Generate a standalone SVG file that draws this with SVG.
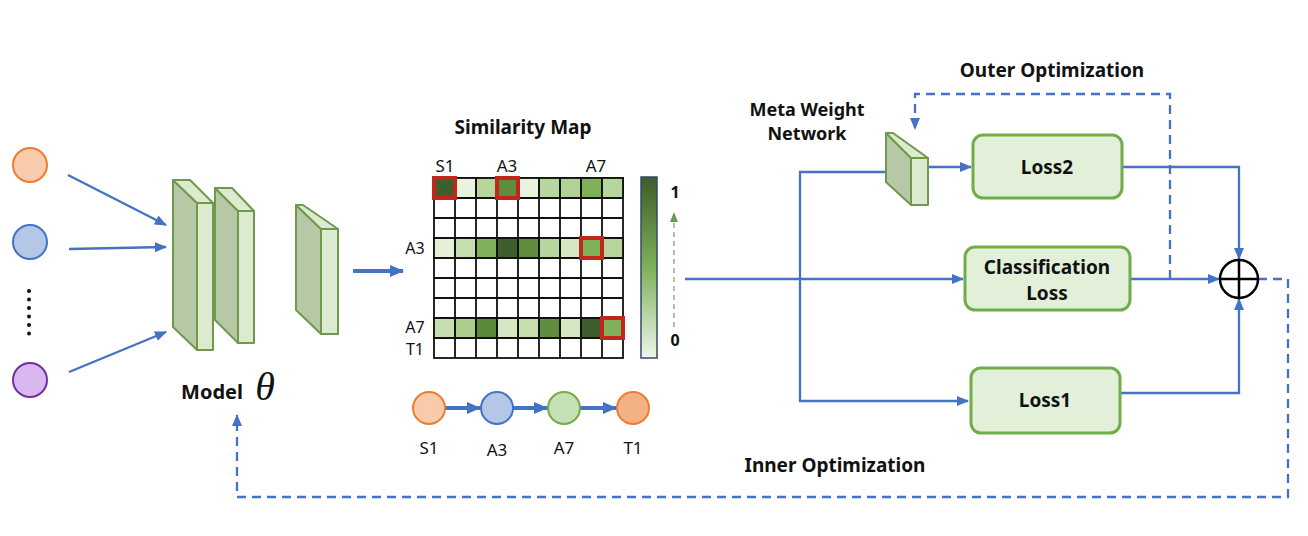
<svg xmlns="http://www.w3.org/2000/svg" width="1308" height="536" viewBox="0 0 1308 536">
<defs>
<style>
.t{font-family:"Noto Sans","Open Sans","Liberation Sans",sans-serif;fill:#111;text-anchor:middle}
.b{font-weight:700}
.box{fill:#e2efd9;stroke:#70ad47;stroke-width:3}
.ln{fill:none;stroke:#4472c4;stroke-width:2.3}
.dash{fill:none;stroke:#4472c4;stroke-width:2.3;stroke-dasharray:9 6}
.thick{fill:none;stroke:#4472c4;stroke-width:4}
.dk{fill:#b6c8a6;stroke:#6f9a4e;stroke-width:2;stroke-linejoin:round}
.lt{fill:#dcebd0;stroke:#6f9a4e;stroke-width:2;stroke-linejoin:round}
.cell{stroke:#111;stroke-width:1.8}
.red{fill:none;stroke:#c0261c;stroke-width:4}
</style>
<marker id="ah" markerUnits="userSpaceOnUse" markerWidth="12" markerHeight="10" refX="11" refY="5" orient="auto"><path d="M0,0 L12,5 L0,10 Z" fill="#4472c4"/></marker>
<marker id="ahT" markerUnits="userSpaceOnUse" markerWidth="14" markerHeight="12" refX="13" refY="6" orient="auto"><path d="M0,0 L14,6 L0,12 Z" fill="#4472c4"/></marker>
<marker id="ahG" markerUnits="userSpaceOnUse" markerWidth="10" markerHeight="10" refX="9" refY="5" orient="auto"><path d="M0,1 L10,5 L0,9 Z" fill="#6a9a50"/></marker>
<linearGradient id="cb" x1="0" y1="0" x2="0" y2="1">
<stop offset="0" stop-color="#3e5c2a"/>
<stop offset="0.5" stop-color="#7fb05a"/>
<stop offset="1" stop-color="#eef6e8"/>
</linearGradient>
</defs>
<rect width="1308" height="536" fill="#fff"/>

<g id="connectors">
<line class="ln" x1="68" y1="175" x2="166" y2="225" marker-end="url(#ah)"/>
<line class="ln" x1="69" y1="249" x2="166" y2="247" marker-end="url(#ah)"/>
<line class="ln" x1="69" y1="372" x2="166" y2="332" marker-end="url(#ah)"/>
<line class="thick" x1="353" y1="271" x2="403" y2="271" marker-end="url(#ahT)"/>
<line class="ln" x1="685" y1="279" x2="963" y2="279" marker-end="url(#ah)"/>
<polyline class="ln" points="885,172 800,172 800,401 968,401" marker-end="url(#ah)"/>
<line class="ln" x1="928" y1="167" x2="971" y2="167" marker-end="url(#ah)"/>
<polyline class="ln" points="1122,167 1239,167 1239,259" marker-end="url(#ah)"/>
<line class="ln" x1="1130" y1="279" x2="1219" y2="279" marker-end="url(#ah)"/>
<polyline class="ln" points="1120,393 1239,393 1239,299" marker-end="url(#ah)"/>
<polyline class="dash" points="1170,279 1170,94 915,94 915,129" marker-end="url(#ah)"/>
<polyline class="dash" points="1258,279 1288,279 1288,497 237,497 237,415" marker-end="url(#ah)"/>
<line class="thick" x1="445" y1="408" x2="480" y2="408" marker-end="url(#ahT)"/>
<line class="thick" x1="513" y1="408" x2="547" y2="408" marker-end="url(#ahT)"/>
<line class="thick" x1="580" y1="408" x2="616" y2="408" marker-end="url(#ahT)"/>
</g>

<g id="inputs">
<circle cx="30" cy="165" r="17" fill="#f8cbad" stroke="#ed7d31" stroke-width="2"/>
<circle cx="30" cy="242" r="17" fill="#b4c7e7" stroke="#4472c4" stroke-width="2"/>
<g fill="#111">
<circle cx="29" cy="291" r="2"/><circle cx="29" cy="299.5" r="2"/><circle cx="29" cy="308" r="2"/><circle cx="29" cy="316.5" r="2"/><circle cx="29" cy="325" r="2"/><circle cx="29" cy="333.5" r="2"/>
</g>
<circle cx="30" cy="380" r="17" fill="#d9b8f0" stroke="#7030a0" stroke-width="2"/>
</g>

<g id="model">
<polygon class="dk" points="173,180 197,203 197,350 173,327"/>
<polygon class="lt" points="173,180 190,180 213,203 197,203"/>
<rect class="lt" x="197" y="203" width="16" height="147"/>
<polygon class="dk" points="215,188 238,211 238,343 215,320"/>
<polygon class="lt" points="215,188 232,188 254,211 238,211"/>
<rect class="lt" x="238" y="211" width="16" height="132"/>
<polygon class="dk" points="296,205 321,229 321,334 296,310"/>
<polygon class="lt" points="296,205 303,205 338,229 321,229"/>
<rect class="lt" x="321" y="229" width="17" height="105"/>
<text class="t b" x="212" y="399" font-size="20">Model</text>
<text x="265" y="400" font-family="Liberation Serif,serif" font-style="italic" font-size="40" fill="#111" text-anchor="middle">θ</text>
</g>

<g id="similarity-map">
<text class="t b" x="523" y="134" font-size="19">Similarity Map</text>
<g font-size="17">
<text class="t" x="445" y="172">S1</text>
<text class="t" x="507" y="172">A3</text>
<text class="t" x="596" y="172">A7</text>
</g>
<g font-size="16">
<text class="t" x="415" y="254">A3</text>
<text class="t" x="415" y="333">A7</text>
<text class="t" x="415" y="355">T1</text>
</g>
<g class="cell" fill="#fff">
<rect x="434" y="178" width="189" height="180"/>
</g>
<g class="cell">
<rect x="434" y="178" width="21" height="20" fill="#3e5e2b"/>
<rect x="455" y="178" width="21" height="20" fill="#e9f3df"/>
<rect x="476" y="178" width="21" height="20" fill="#b7d69d"/>
<rect x="497" y="178" width="21" height="20" fill="#5f8d3d"/>
<rect x="518" y="178" width="21" height="20" fill="#e9f3df"/>
<rect x="539" y="178" width="21" height="20" fill="#b7d69d"/>
<rect x="560" y="178" width="21" height="20" fill="#b0d295"/>
<rect x="581" y="178" width="21" height="20" fill="#7fb05a"/>
<rect x="602" y="178" width="21" height="20" fill="#b7d69d"/>

<rect x="434" y="238" width="21" height="20" fill="#e4f0d8"/>
<rect x="455" y="238" width="21" height="20" fill="#c5deae"/>
<rect x="476" y="238" width="21" height="20" fill="#7fb05a"/>
<rect x="497" y="238" width="21" height="20" fill="#3e5e2b"/>
<rect x="518" y="238" width="21" height="20" fill="#5f8d3d"/>
<rect x="539" y="238" width="21" height="20" fill="#b7d69d"/>
<rect x="560" y="238" width="21" height="20" fill="#d5e8c3"/>
<rect x="581" y="238" width="21" height="20" fill="#80b05a"/>
<rect x="602" y="238" width="21" height="20" fill="#b7d69d"/>

<rect x="434" y="318" width="21" height="20" fill="#c5deae"/>
<rect x="455" y="318" width="21" height="20" fill="#aacd8d"/>
<rect x="476" y="318" width="21" height="20" fill="#5a8a3a"/>
<rect x="497" y="318" width="21" height="20" fill="#d5e8c3"/>
<rect x="518" y="318" width="21" height="20" fill="#c5deae"/>
<rect x="539" y="318" width="21" height="20" fill="#5f8d3d"/>
<rect x="560" y="318" width="21" height="20" fill="#d5e8c3"/>
<rect x="581" y="318" width="21" height="20" fill="#3e5e2b"/>
<rect x="602" y="318" width="21" height="20" fill="#80b05a"/>
</g>
<path stroke="#111" stroke-width="1.8" fill="none" d="M455,178V358M476,178V358M497,178V358M518,178V358M539,178V358M560,178V358M581,178V358M602,178V358M434,198H623M434,218H623M434,238H623M434,258H623M434,278H623M434,298H623M434,318H623M434,338H623"/>
<rect class="red" x="434" y="178" width="21" height="20"/>
<rect class="red" x="497" y="178" width="21" height="20"/>
<rect class="red" x="581" y="238" width="21" height="20"/>
<rect class="red" x="602" y="318" width="21" height="20"/>
<rect x="641" y="177" width="16" height="181" fill="url(#cb)" stroke="#34496a" stroke-width="1.5"/>
<line x1="674" y1="327" x2="674" y2="213" stroke="#8aa67a" stroke-width="1.3" stroke-dasharray="5 4" marker-end="url(#ahG)"/>
<text class="t b" x="675" y="198" font-size="16">1</text>
<text class="t b" x="675" y="346" font-size="16">0</text>
</g>

<g id="path-nodes">
<circle cx="429" cy="408" r="16" fill="#f8cbad" stroke="#ed7d31" stroke-width="2"/>
<circle cx="497" cy="408" r="16" fill="#b4c7e7" stroke="#4472c4" stroke-width="2"/>
<circle cx="564" cy="408" r="16" fill="#c5e0b4" stroke="#70ad47" stroke-width="2"/>
<circle cx="633" cy="408" r="16" fill="#f4b183" stroke="#ed7d31" stroke-width="2"/>
<g font-size="17">
<text class="t" x="429" y="454">S1</text>
<text class="t" x="497" y="456">A3</text>
<text class="t" x="564" y="454">A7</text>
<text class="t" x="633" y="454">T1</text>
</g>
</g>

<g id="meta-weight-network">
<polygon class="dk" points="886,133 911,158 911,205 886,182"/>
<polygon class="lt" points="886,133 893,133 928,158 911,158"/>
<rect class="lt" x="911" y="158" width="17" height="47"/>
<text class="t b" x="807" y="116" font-size="18">Meta Weight</text>
<text class="t b" x="807" y="140" font-size="18">Network</text>
</g>

<g id="loss2">
<rect class="box" x="973" y="135" width="149" height="63" rx="10"/>
<text class="t b" x="1047" y="174" font-size="19">Loss2</text>
</g>
<g id="classification-loss">
<rect class="box" x="965" y="247" width="165" height="63" rx="10"/>
<text class="t b" x="1047" y="274" font-size="19">Classification</text>
<text class="t b" x="1047" y="300" font-size="19">Loss</text>
</g>
<g id="loss1">
<rect class="box" x="971" y="368" width="149" height="65" rx="10"/>
<text class="t b" x="1045" y="407" font-size="19">Loss1</text>
</g>
<g id="sum">
<circle cx="1239" cy="279" r="19" fill="#fff" stroke="#000" stroke-width="2.5"/>
<path d="M1220,279H1258M1239,260V298" stroke="#000" stroke-width="2.5"/>
</g>
<g id="labels">
<text class="t b" x="1052" y="77" font-size="19">Outer Optimization</text>
<text class="t b" x="835" y="472" font-size="19">Inner Optimization</text>
</g>
</svg>
